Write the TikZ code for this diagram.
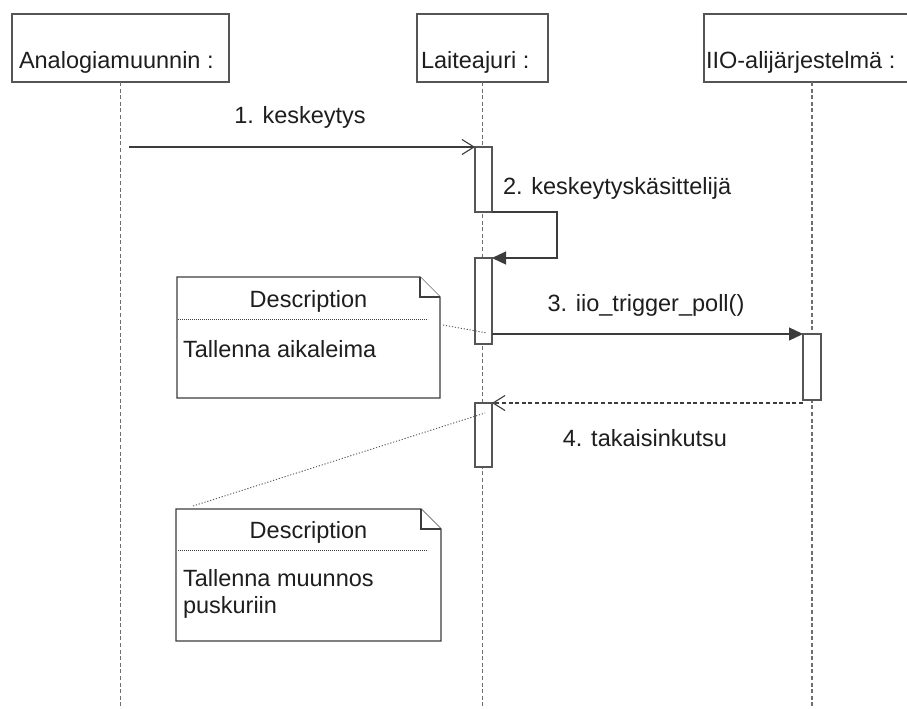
\documentclass[tikz,border=0pt]{standalone}
\usepackage{fontspec}
\setmainfont{Liberation Sans}
\usetikzlibrary{arrows.meta}
\definecolor{ink}{HTML}{1E1E1E}
\definecolor{wire}{HTML}{3C3C3C}
\definecolor{frame}{HTML}{555555}
\definecolor{lifegray}{HTML}{6E6E6E}
\begin{document}
\begin{tikzpicture}[x=1pt,y=-1pt,
  every node/.style={font=\fontsize{23.5}{27}\selectfont, text=ink, inner sep=0pt, outer sep=0pt},
  headbox/.style={draw=frame, line width=1.2pt, minimum height=68pt, anchor=north west},
  lifeline/.style={draw=lifegray, line width=1.1pt, dash pattern=on 4pt off 2.6pt},
  activation/.style={draw=frame, fill=white, line width=1.2pt, anchor=north west},
  msg/.style={draw=wire, line width=1.2pt},
  openhead/.style={-{Straight Barb[length=12pt,width=15pt,line width=1.1pt]}},
  filledhead/.style={-{Triangle[length=14pt,width=13pt]}},
  reply/.style={dash pattern=on 4pt off 2.6pt},
  notebox/.style={anchor=north west},
  noteframe/.style={draw=wire, line width=1.2pt, fill=white},
  noterule/.style={draw=wire, line width=0.8pt, dash pattern=on 0.9pt off 1.1pt},
  notelink/.style={draw=wire!85, line width=0.9pt, dash pattern=on 1.2pt off 1.8pt}
]
\useasboundingbox (0,0) rectangle (907,709);
\fill[white] (0,0) rectangle (907,709);

% participants
\node[headbox, minimum width=217pt] (adc) at (12,14) {};
\node[anchor=base west] (adcT) at (19,68) {Analogiamuunnin :};
\node[headbox, minimum width=131pt] (drv) at (417,14) {};
\node[anchor=base west] (drvT) at (421,68) {Laiteajuri :};
\node[headbox, minimum width=216pt] (iio) at (704,14) {};
\node[anchor=base west] (iioT) at (706,68) {IIO-alijärjestelmä :};

% lifelines
\coordinate (adcEnd) at (adc.south |- 0,709);
\coordinate (drvEnd) at (drv.south |- 0,709);
\coordinate (iioEnd) at (iio.south |- 0,709);
\draw[lifeline] (adc.south) -- (adcEnd);
\draw[lifeline] (drv.south) -- (drvEnd);
\draw[lifeline] (iio.south) -- (iioEnd);

% activation bars
\node[activation, minimum width=17pt, minimum height=65pt] (act1) at (475,147) {};
\node[activation, minimum width=17pt, minimum height=86pt] (act2) at (475,258) {};
\node[activation, minimum width=17pt, minimum height=64pt] (act3) at (475,403) {};
\node[activation, minimum width=18pt, minimum height=66pt] (actI) at (803,334) {};

% messages
\coordinate (m1start) at (129,147);
\draw[msg, openhead] (m1start) -- (act1.north west);
\node[anchor=base] (m1) at (300,123) {1. keskeytys};

\draw[msg, filledhead] (act1.south east) -- ++(65,0) |- (act2.north east);
\node[anchor=base west] (m2) at (503,194) {2. keskeytyskäsittelijä};

\draw[msg, filledhead] (act2.east |- actI.north) -- (actI.north west);
\node[anchor=base] (m3) at (646,311) {3. iio\_trigger\_poll()};

\draw[msg, reply, openhead] (actI.west |- act3.north) -- (act3.north east);
\node[anchor=base] (m4) at (645,446) {4. takaisinkutsu};

% note: timestamp
\node[notebox, minimum width=263pt, minimum height=121pt] (n1) at (177,277) {};
\draw[noteframe] (n1.north west) -- ([xshift=-20pt]n1.north east)
  -- ([yshift=-20pt]n1.north east) -- (n1.south east) -- (n1.south west) -- cycle;
\draw[noteframe] ([xshift=-20pt]n1.north east) |- ([yshift=-20pt]n1.north east);
\node[anchor=base] (n1h) at ([yshift=-30pt]n1.north) {Description};
\draw[noterule] ([xshift=1pt,yshift=-42pt]n1.north west) -- ([xshift=-12pt,yshift=-42pt]n1.north east);
\node[anchor=base west] (n1b) at ([xshift=6pt,yshift=-80pt]n1.north west) {Tallenna aikaleima};
\coordinate (n1tip) at (487,333);
\draw[notelink] ([xshift=3pt]n1.east |- 0,325) -- (n1tip);

% note: store sample
\node[notebox, minimum width=265pt, minimum height=132pt] (n2) at (176,509) {};
\draw[noteframe] (n2.north west) -- ([xshift=-20pt]n2.north east)
  -- ([yshift=-20pt]n2.north east) -- (n2.south east) -- (n2.south west) -- cycle;
\draw[noteframe] ([xshift=-20pt]n2.north east) |- ([yshift=-20pt]n2.north east);
\node[anchor=base] (n2h) at ([yshift=-29pt]n2.north) {Description};
\draw[noterule] ([xshift=2pt,yshift=-41pt]n2.north west) -- ([xshift=-13pt,yshift=-41pt]n2.north east);
% the node's base is the baseline of its last line
\node[anchor=base west, align=left] (n2b) at ([xshift=7pt,yshift=-104pt]n2.north west) {Tallenna muunnos\\puskuriin};
\coordinate (n2tip) at (485,413);
\coordinate (n2foot) at (193,506);
\draw[notelink] (n2foot) -- (n2tip);
\end{tikzpicture}
\end{document}
